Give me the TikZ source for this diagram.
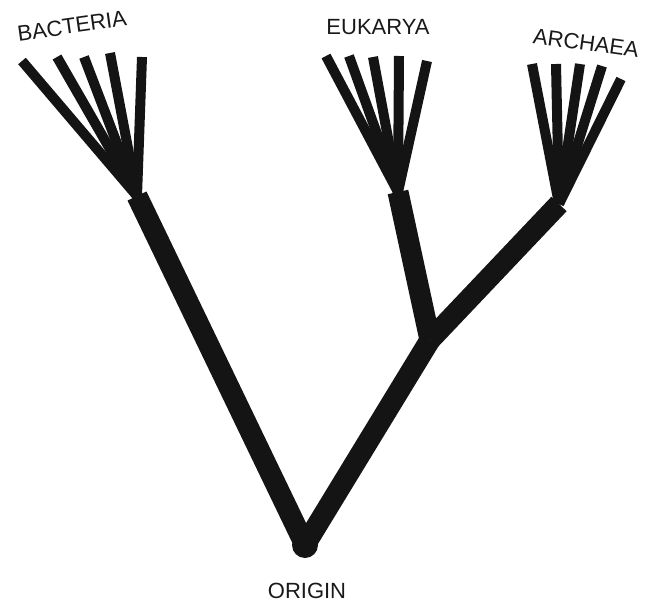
\documentclass[tikz,border=0pt]{standalone}
\usepackage{fontspec}
\setmainfont{Liberation Sans}
\begin{document}
\begin{tikzpicture}[x=1pt,y=-1pt,
  trunk/.style={line width=21pt,color=black!92,line cap=butt},
  twig/.style={line width=10pt,color=black!92,line cap=butt},
  lab/.style={font=\fontsize{22}{26}\selectfont,text=black!90,inner sep=0pt}]
\useasboundingbox (0,0) rectangle (651,602);
% junctions
\coordinate (o) at (305,545);
\coordinate (b) at (137,196);
\coordinate (f) at (430,340);
\coordinate (e) at (398,192);
\coordinate (a) at (559,204);
% bacteria twigs
\coordinate (b1) at (22,61);
\coordinate (b2) at (57,57);
\coordinate (b3) at (84,57);
\coordinate (b4) at (110,53);
\coordinate (b5) at (142,57);
% eukarya twigs
\coordinate (e1) at (326,56);
\coordinate (e2) at (349,56);
\coordinate (e3) at (373,57);
\coordinate (e4) at (399,56);
\coordinate (e5) at (427,61);
% archaea twigs
\coordinate (a1) at (532,64);
\coordinate (a2) at (556,64);
\coordinate (a3) at (580,64);
\coordinate (a4) at (602,66);
\coordinate (a5) at (621,79);
\foreach \i in {1,...,5}{
  \draw[twig] (b) -- (b\i);
  \draw[twig] (e) -- (e\i);
  \draw[twig] (a) -- (a\i);
}
\draw[trunk] (o) -- (b);
\draw[trunk] (o) -- (f);
\draw[trunk] (f) -- (e);
\draw[trunk] (f) -- (a);
\fill[black!92] (o) circle (13);
\node[lab,rotate=8] (lb) at (72,26) {BACTERIA};
\node[lab] (le) at (378,27) {EUKARYA};
\node[lab,rotate=-8] (la) at (586,43) {ARCHAEA};
\node[lab] (lo) at (307,591) {ORIGIN};
\end{tikzpicture}
\end{document}
